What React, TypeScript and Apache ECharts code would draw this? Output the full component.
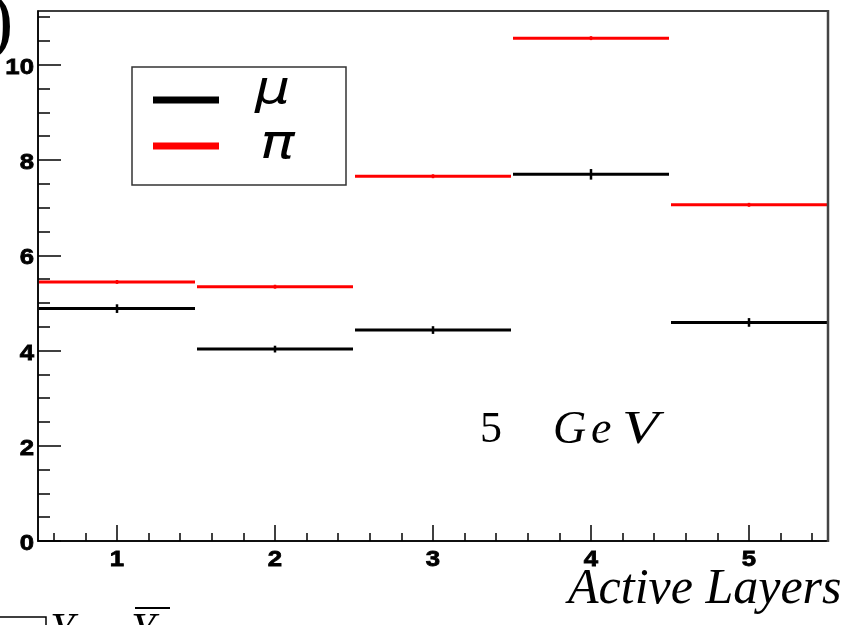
import React, { useEffect, useRef } from "react";
import * as echarts from "echarts";

const categories = [1, 2, 3, 4, 5];
const muValues = [4.88, 4.03, 4.43, 7.7, 4.59];
const muErrors = [0.07, 0.05, 0.06, 0.09, 0.07];
const piValues = [5.44, 5.34, 7.66, 10.56, 7.06];
const piErrors = [0.02, 0.02, 0.02, 0.02, 0.02];
const xMajorTicks = [1, 2, 3, 4, 5];
const xMinorTicks = [0.6, 0.8, 1.2, 1.4, 1.6, 1.8, 2.2, 2.4, 2.6, 2.8, 3.2, 3.4, 3.6, 3.8, 4.2, 4.4, 4.6, 4.8, 5.2, 5.4];
const yMajorTicks = [0, 2, 4, 6, 8, 10];
const yMinorTicks = [0.5, 1, 1.5, 2.5, 3, 3.5, 4.5, 5, 5.5, 6.5, 7, 7.5, 8.5, 9, 9.5, 10.5, 11];

const SERIF = "'Liberation Serif', 'Times New Roman', serif";
const SANS = "'Liberation Sans', Arial, Helvetica, sans-serif";
const GREEK = "'DejaVu Sans', 'Liberation Sans', sans-serif";
const LABEL_FONT = `bold 23px ${SANS}`;

function makeRender(color: string) {
  return (params: any, api: any) => {
    const x = api.value(0);
    const y = api.value(1);
    const e = api.value(2);
    const l = api.coord([x - 0.5, y]);
    const r = api.coord([x + 0.5, y]);
    const t = api.coord([x, y + e]);
    const b = api.coord([x, y - e]);
    return {
      type: "group",
      children: [
        { type: "line", shape: { x1: l[0] + 1, y1: l[1], x2: r[0] - 1, y2: r[1] }, style: { stroke: color, lineWidth: 3 } },
        { type: "line", shape: { x1: t[0], y1: t[1] - 1, x2: b[0], y2: b[1] + 1 }, style: { stroke: color, lineWidth: 2.5 } },
      ],
    };
  };
}

const labelStyle = (text: string, align: string) => ({
  text,
  font: LABEL_FONT,
  fill: "#000",
  stroke: "#000",
  lineWidth: 0.8,
  align,
  verticalAlign: "middle",
});

const xLabelRender = (params: any, api: any) => {
  const v = api.value(0);
  const p = api.coord([v, api.value(1)]);
  return { type: "text", x: p[0], y: p[1] + 17, scaleX: 1.12, style: labelStyle(String(v), "center") };
};
const yLabelRender = (params: any, api: any) => {
  const v = api.value(1);
  const p = api.coord([api.value(0), v]);
  return { type: "text", x: p[0] - 4, y: p[1] + 1, scaleX: 1.12, style: labelStyle(String(v), "right") };
};

export default function App() {
  const ref = useRef<HTMLDivElement>(null);
  useEffect(() => {
    document.body.style.margin = "0";
    const chart = echarts.init(ref.current!, null, { renderer: "svg" });
    const xBase = { type: "value", min: 0.5, max: 5.5, position: "bottom", splitLine: { show: false }, axisLabel: { show: false } };
    const yBase = { type: "value", min: 0, max: 11.13, position: "left", splitLine: { show: false }, axisLabel: { show: false } };
    chart.setOption({
      animation: false,
      grid: { left: 38, right: 16, top: 11, bottom: 84, show: true, borderColor: "#000", borderWidth: 1.5, backgroundColor: "transparent" },
      xAxis: [
        {
          ...xBase,
          axisLine: { show: true, lineStyle: { color: "#000", width: 1.5 } },
          axisTick: { show: true, inside: true, length: 16, customValues: xMajorTicks, lineStyle: { color: "#000", width: 1.5 } },
        },
        {
          ...xBase,
          axisLine: { show: false },
          axisTick: { show: true, inside: true, length: 8, customValues: xMinorTicks, lineStyle: { color: "#000", width: 1.5 } },
        },
      ],
      yAxis: [
        {
          ...yBase,
          axisLine: { show: true, lineStyle: { color: "#000", width: 1.5 } },
          axisTick: { show: true, inside: true, length: 23, customValues: yMajorTicks, lineStyle: { color: "#000", width: 1.5 } },
        },
        {
          ...yBase,
          axisLine: { show: false },
          axisTick: { show: true, inside: true, length: 12, customValues: yMinorTicks, lineStyle: { color: "#000", width: 1.5 } },
        },
      ],
      series: [
        {
          name: "μ",
          type: "custom",
          xAxisIndex: 0,
          yAxisIndex: 0,
          renderItem: makeRender("#000000"),
          encode: { x: 0, y: 1 },
          data: categories.map((c, i) => [c, muValues[i], muErrors[i]]),
        },
        {
          name: "π",
          type: "custom",
          xAxisIndex: 0,
          yAxisIndex: 0,
          renderItem: makeRender("#ff0000"),
          encode: { x: 0, y: 1 },
          data: categories.map((c, i) => [c, piValues[i], piErrors[i]]),
        },
        {
          name: "xLabels",
          type: "custom",
          clip: false,
          silent: true,
          renderItem: xLabelRender,
          encode: { x: 0, y: 1 },
          data: xMajorTicks.map((v) => [v, 0]),
        },
        {
          name: "yLabels",
          type: "custom",
          clip: false,
          silent: true,
          renderItem: yLabelRender,
          encode: { x: 0, y: 1 },
          data: yMajorTicks.map((v) => [0.5, v]),
        },
      ],
      graphic: [
        { type: "line", shape: { x1: 828, y1: 10, x2: 828, y2: 542 }, style: { stroke: "#444", lineWidth: 2.5 }, z: 10 },
        // legend box
        { type: "rect", shape: { x: 132, y: 67, width: 214, height: 118 }, style: { fill: "#fff", stroke: "#333", lineWidth: 1.5 }, z: 20 },
        { type: "line", shape: { x1: 153, y1: 100, x2: 219, y2: 100 }, style: { stroke: "#000", lineWidth: 7 }, z: 21 },
        { type: "line", shape: { x1: 153, y1: 146, x2: 219, y2: 146 }, style: { stroke: "#ff0000", lineWidth: 7 }, z: 21 },
        { type: "text", x: 255, y: 87, scaleX: 1.2, style: { text: "μ", font: `oblique 46px ${GREEK}`, fill: "#000", verticalAlign: "middle" }, z: 21 },
        { type: "text", x: 260, y: 142, scaleX: 1.2, style: { text: "π", font: `oblique 48px ${GREEK}`, fill: "#000", verticalAlign: "middle" }, z: 21 },
        // 5 GeV
        { type: "text", x: 480, y: 427, style: { text: "5", font: `44px ${SERIF}`, fill: "#000", verticalAlign: "middle" }, z: 21 },
        { type: "text", x: 553, y: 427, style: { text: "G", font: `italic 46px ${SERIF}`, fill: "#000", verticalAlign: "middle" }, z: 21 },
        { type: "text", x: 591, y: 427, style: { text: "e", font: `italic 46px ${SERIF}`, fill: "#000", verticalAlign: "middle" }, z: 21 },
        { type: "text", x: 622, y: 427, scaleX: 1.3, style: { text: "V", font: `italic 46px ${SERIF}`, fill: "#000", verticalAlign: "middle" }, z: 21 },
        // x axis title
        { type: "text", x: 568, y: 586, style: { text: "Active Layers", font: `italic 50px ${SERIF}`, fill: "#000", verticalAlign: "middle" }, z: 21 },
        // cropped fragments
        { type: "text", x: -12, y: 19, style: { text: ")", font: `76px ${SERIF}`, fill: "#000", verticalAlign: "middle" }, z: 21 },
        { type: "polyline", shape: { points: [[0, 617], [46, 617], [46, 626]] }, style: { stroke: "#000", lineWidth: 1.5, fill: "none" }, z: 21 },
        { type: "text", x: 50, y: 628, style: { text: "Y", font: `italic 44px ${SERIF}`, fill: "#000", verticalAlign: "middle" }, z: 21 },
        { type: "text", x: 131, y: 628, style: { text: "Y", font: `italic 44px ${SERIF}`, fill: "#000", verticalAlign: "middle" }, z: 21 },
        { type: "line", shape: { x1: 135, y1: 608, x2: 170, y2: 608 }, style: { stroke: "#000", lineWidth: 2 }, z: 21 },
      ],
    });
    return () => chart.dispose();
  }, []);
  return <div ref={ref} style={{ position: "fixed", left: 0, top: 0, width: 844, height: 625 }} />;
}
